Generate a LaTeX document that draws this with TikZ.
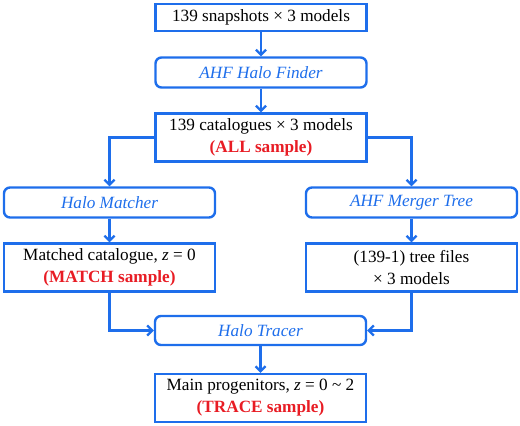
\documentclass[tikz,border=0pt]{standalone}
\usepackage{fontspec}
\setmainfont{Liberation Serif}
\usetikzlibrary{arrows.meta}
\definecolor{fblue}{RGB}{30,110,235}
\definecolor{fred}{RGB}{232,28,36}
\tikzset{
  databox/.style={draw=fblue, line width=2.4pt, minimum width=211pt, align=center,
    font=\fontsize{17.2}{22}\selectfont, inner sep=1pt},
  procbox/.style={draw=fblue, line width=2.4pt, minimum width=211pt, rounded corners=6pt,
    font=\fontsize{17.2}{22}\selectfont\itshape, text=fblue, inner sep=1pt},
  arr/.style={draw=fblue, line width=2.4pt, -{Straight Barb[length=5pt,width=10pt,line width=2.2pt]}},
}
\newcommand{\red}[1]{\textcolor{fred}{\textbf{#1}}}
\begin{document}
\begin{tikzpicture}[x=1pt,y=-1pt]
\useasboundingbox (0,0) rectangle (520,426);
\node[databox, minimum height=27pt] (snap) at (261,17.5) {139 snapshots × 3 models};
\node[procbox, minimum height=30pt] (finder) at (261,72.5) {AHF Halo Finder};
\node[databox, minimum height=48pt] (cat) at (261,137.5) {139 catalogues × 3 models\\\red{(ALL sample)}};
\node[procbox, minimum height=30pt] (matcher) at (109.5,202.5) {Halo Matcher};
\node[procbox, minimum height=30pt] (merger) at (411.5,202.5) {AHF Merger Tree};
\node[databox, minimum height=48pt] (matched) at (109.5,267.5) {Matched catalogue, \textit{z} = 0\\\red{(MATCH sample)}};
\node[databox, minimum height=48pt] (tree) at (411.5,267.5) {(139-1) tree files\\× 3 models};
\node[procbox, minimum height=29pt] (tracer) at (260.5,330.5) {Halo Tracer};
\node[databox, minimum height=48pt] (final) at (260.5,398) {Main progenitors, \textit{z} = 0 \char`~{} 2\\\red{(TRACE sample)}};
\draw[arr] (snap) -- (finder);
\draw[arr] (finder) -- (cat);
\draw[arr] (cat.west) -| (matcher.north);
\draw[arr] (cat.east) -| (merger.north);
\draw[arr] (matcher) -- (matched);
\draw[arr] (merger) -- (tree);
\draw[arr] (matched.south) |- (tracer.west);
\draw[arr] (tree.south) |- (tracer.east);
\draw[arr] (tracer) -- (final);
\end{tikzpicture}
\end{document}
